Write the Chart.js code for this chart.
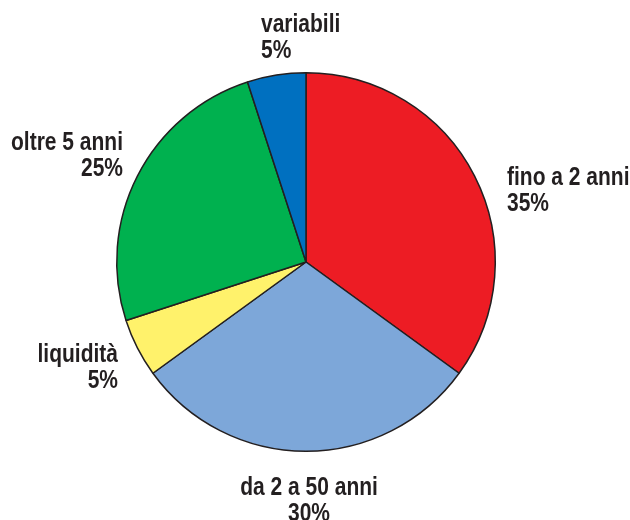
<!DOCTYPE html>
<html>
<head>
<meta charset="utf-8">
<script src="https://cdn.jsdelivr.net/npm/chart.js@4/dist/chart.umd.min.js"></script>
<style>
  html, body { margin: 0; padding: 0; background: #ffffff; }
  #wrap { width: 630px; height: 520px; position: relative; }
</style>
</head>
<body>
<div id="wrap"><canvas id="c" width="630" height="520"></canvas></div>
<script>
const categories = ["fino a 2 anni", "da 2 a 50 anni", "liquidità", "oltre 5 anni", "variabili"];
const values = [35, 30, 5, 25, 5];
const colors = ["#ED1C24", "#7DA7D9", "#FFF26B", "#00B14F", "#0070C0"];

// label placement (style only): x, first baseline y, alignment
const labelPlacement = [
  { x: 507, y: 185, align: "left" },
  { x: 309, y: 495, align: "center" },
  { x: 118, y: 362, align: "right" },
  { x: 123, y: 150, align: "right" },
  { x: 261, y: 32, align: "left" }
];

const labelPlugin = {
  id: "sliceLabels",
  afterDraw(chart) {
    const ctx = chart.ctx;
    const ds = chart.data.datasets[0].data;
    const sx = 0.84;
    ctx.save();
    ctx.fillStyle = "#231F20";
    ctx.font = "bold 25px 'Liberation Sans', Arial, sans-serif";
    ctx.textBaseline = "alphabetic";
    chart.data.labels.forEach((lab, i) => {
      const p = labelPlacement[i];
      ctx.save();
      ctx.translate(p.x, p.y);
      ctx.scale(sx, 1);
      ctx.textAlign = p.align;
      ctx.fillText(lab, 0, 0);
      ctx.fillText(ds[i] + "%", 0, 26);
      ctx.restore();
    });
    ctx.restore();
  }
};

new Chart(document.getElementById("c"), {
  type: "pie",
  data: {
    labels: categories,
    datasets: [{
      data: values,
      backgroundColor: colors,
      borderColor: "#231F20",
      borderWidth: 1.5,
      borderAlign: "center"
    }]
  },
  options: {
    responsive: false,
    animation: false,
    events: [],
    layout: { padding: { left: 116, right: 134, top: 72, bottom: 68 } },
    plugins: { legend: { display: false }, tooltip: { enabled: false } }
  },
  plugins: [labelPlugin]
});
</script>
</body>
</html>
